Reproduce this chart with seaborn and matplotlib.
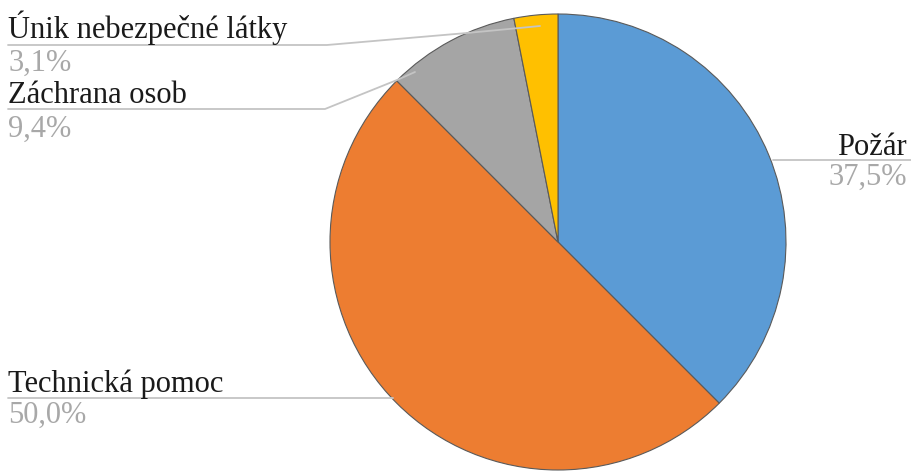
import matplotlib
matplotlib.use("Agg")
import matplotlib.pyplot as plt
import seaborn as sns

categories = ["Požár", "Technická pomoc", "Záchrana osob", "Únik nebezpečné látky"]
shares = [37.5, 50.0, 9.4, 3.1]
colors = ["#5B9BD5", "#ED7D31", "#A5A5A5", "#FFC000"]

sns.set_theme(style="white")
plt.rcParams['font.family'] = ['Liberation Serif', 'DejaVu Serif']

W, H = 911, 472
fig = plt.figure(figsize=(W / 100, H / 100), dpi=100)
ax = fig.add_axes([0, 0, 1, 1])

cx, cy, r = 558, H - 242, 228
ax.pie(shares, colors=colors, startangle=90, counterclock=False,
       center=(cx, cy), radius=r,
       wedgeprops=dict(edgecolor="#5a5a5a", linewidth=0.8))
ax.set_xlim(0, W)
ax.set_ylim(0, H)
ax.set_aspect("equal")
ax.axis("off")

# leader lines and labels (pixel positions from top)
line_col = "#c4c4c4"
label_layout = {
    "Požár": dict(x=907, ha="right", name_y=155, pct_y=185,
                  path=[(911, 160), (773, 160)]),
    "Technická pomoc": dict(x=8, ha="left", name_y=392, pct_y=423,
                            path=[(8, 398), (393, 398)]),
    "Záchrana osob": dict(x=8, ha="left", name_y=103, pct_y=137,
                          path=[(8, 109), (325, 109), (397, 80), (415, 72)]),
    "Únik nebezpečné látky": dict(x=8, ha="left", name_y=38, pct_y=71,
                                  path=[(8, 45), (327, 45), (467, 33), (540, 26)]),
}

for cat, val in zip(categories, shares):
    lay = label_layout[cat]
    xs = [p[0] for p in lay["path"]]
    ys = [H - p[1] for p in lay["path"]]
    ax.plot(xs, ys, color=line_col, lw=1.3, zorder=3)
    ax.text(lay["x"], H - lay["name_y"], cat, ha=lay["ha"], va="baseline",
            fontsize=22, color="#1a1a1a")
    ax.text(lay["x"], H - lay["pct_y"], f"{val:.1f}%".replace(".", ","),
            ha=lay["ha"], va="baseline", fontsize=22, color="#a8a8a8")

fig.savefig("out.png", dpi=100)
